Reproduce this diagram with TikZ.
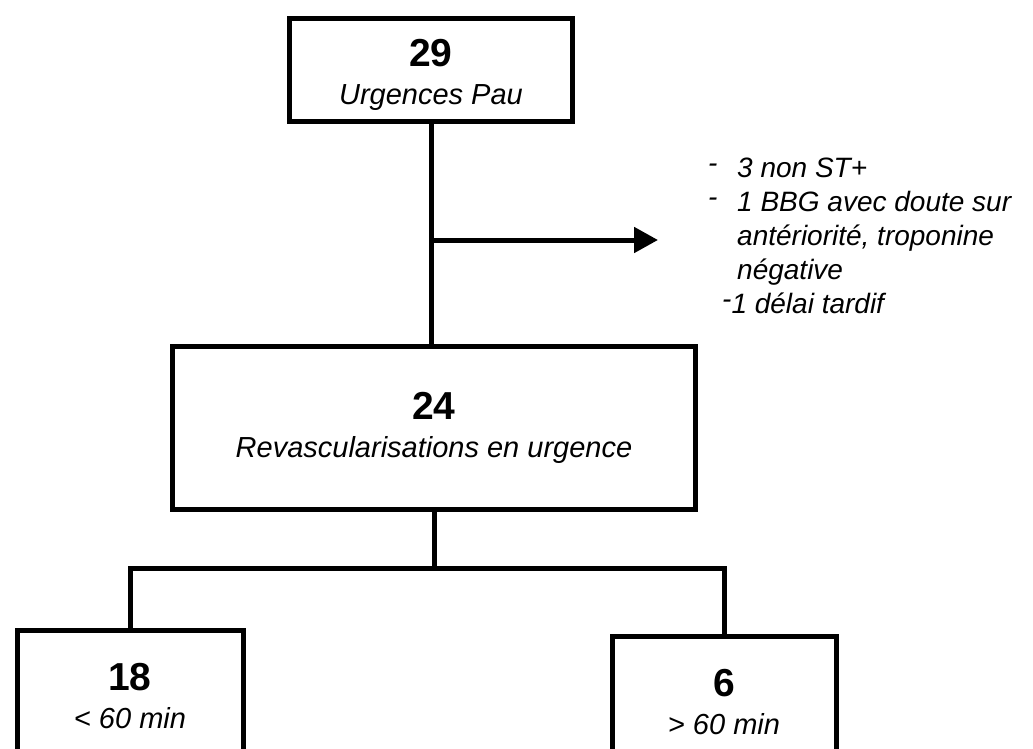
\documentclass[tikz,border=0pt]{standalone}
\usepackage{fontspec}
\setmainfont{Liberation Sans}
\usetikzlibrary{positioning}
\usetikzlibrary{arrows.meta}

\tikzset{
  box/.style={draw, line width=5pt, rectangle, align=center, inner sep=0pt,
    font=\fontsize{29}{38}\selectfont},
  conn/.style={line width=5pt},
}
\newcommand{\cnt}[1]{{\fontsize{39}{38}\selectfont\bfseries #1}}
\newcommand{\sub}[1]{{\itshape #1}}
\newcommand{\tiret}{\raisebox{5pt}{-}}

\begin{document}
\begin{tikzpicture}[x=1pt, y=-1pt]
    \clip (0,0) rectangle (1033,749);

    \node[box, minimum width=283pt, minimum height=103pt] (urg) at (431,70) {\cnt{\rule{0pt}{38pt}29}\\\sub{Urgences Pau}};
    \node[box, minimum width=523pt, minimum height=163pt] (revasc) at (434,428) {\cnt{24}\\\sub{Revascularisations en urgence}};
    \node[box, minimum width=226pt, minimum height=132pt, anchor=north] (moins) at (130,628) {\cnt{18}\\\sub{< 60 min}};
    \node[box, minimum width=224pt, minimum height=132pt, anchor=north] (plus) at (724,634) {\cnt{6}\\\sub{> 60 min}};

    % motifs d'exclusion
    \node[anchor=north west, align=left, inner sep=0pt, font=\fontsize{28}{34}\selectfont\itshape] (exclus) at (708,158) {%
      \makebox[29pt][l]{\tiret}3 non ST+\\
      \makebox[29pt][l]{\tiret}1 BBG avec doute sur\\
      \hspace*{29pt}antériorité, troponine\\
      \hspace*{29pt}négative\\
      \hspace*{14pt}\tiret 1 délai tardif};

    \coordinate (split) at (urg.south |- 0,240);
    \coordinate (tip) at (658,240);
    \coordinate (fork) at (revasc.south |- 0,568);

    \draw[conn] (urg.south) -- (urg.south |- revasc.north);
    \draw[conn, -{Triangle[length=24pt, width=25pt]}] (split) -- (tip);
    \draw[conn] (revasc.south) -- (fork);
    \draw[conn] (moins.north) |- (fork) -| (plus.north);
\end{tikzpicture}
\end{document}
